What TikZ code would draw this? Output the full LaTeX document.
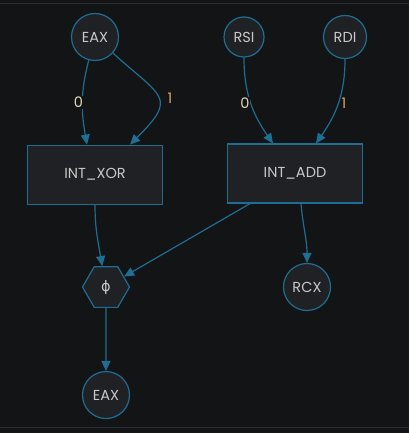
\documentclass[tikz,border=0pt]{standalone}
\usepackage{fontspec}
\setmainfont{Poppins}
\newfontfamily\symfont{DejaVu Sans}
\usetikzlibrary{arrows.meta,positioning,shapes.geometric}

\definecolor{bgdark}{HTML}{121416}
\definecolor{rule}{HTML}{2C2E31}
\definecolor{nodefill}{HTML}{202124}
\definecolor{wire}{HTML}{1E6E93}
\definecolor{nodetext}{HTML}{C8C8C8}
\definecolor{lblzero}{HTML}{E2D8B4}
\definecolor{lblone}{HTML}{E0A466}

\begin{document}
\begin{tikzpicture}[
    x=1pt, y=1pt,
    font=\fontsize{14.5}{16}\selectfont,
    base/.style={draw=wire, fill=nodefill, text=nodetext, line width=1.2pt, inner sep=0pt},
    reg/.style={base, circle, minimum size=47pt},
    op/.style={base, rectangle, minimum width=135pt, minimum height=59pt},
    phinode/.style={base, regular polygon, regular polygon sides=6, minimum size=47pt},
    lbl/.style={fill=bgdark, inner sep=1pt},
    dep/.style={wire, line width=1.2pt, -{Triangle[length=10pt,width=9pt]}}
  ]

  \useasboundingbox (0,0) rectangle (409,-433);
  \fill[bgdark] (0,0) rectangle (409,-433);
  \draw[rule, line width=1pt] (0,-3.5) -- (409,-3.5);
  \draw[rule, line width=1pt] (0,-427.5) -- (409,-427.5);

  \node (eaxin)  [reg]                      at (95,-37)      {EAX};
  \node (rsi)    [reg, minimum size=40pt]   at (244,-37)     {RSI};
  \node (rdi)    [reg, minimum size=43pt]   at (345,-37)     {RDI};

  \node (xor)    [op, below=83.5pt of eaxin]                 {INT\_XOR};
  \node (add)    [op]                       at (295,-173.5)  {INT\_ADD};

  \node (phi)    [phinode]                  at (106,-287)    {\symfont ϕ};
  \node (rcx)    [reg]                      at (307,-287)    {RCX};
  \node (eaxout) [reg, below=63pt of phi]                    {EAX};

  \draw[dep]  (eaxin) edge [out=-105,in=100]
                           node [lbl, text=lblzero, xshift=-4pt] {0}   ([xshift=-8pt]xor.north)
                      edge [out=-42,in=45,looseness=1.85]
                           node [lbl, text=lblone, xshift=12pt] {1}    ([xshift=35pt]xor.north);

  \draw[dep]  (rsi)   edge [out=-90,in=125]
                           node [lbl, text=lblzero, xshift=-6pt] {0}   ([xshift=-22pt]add.north);

  \draw[dep]  (rdi)   edge [out=-90,in=55]
                           node [lbl, text=lblone, xshift=6pt] {1}     ([xshift=21pt]add.north);

  \draw[dep]  (xor)   edge [out=-90,in=100]                            (phi);

  \draw[dep]  ([xshift=-45pt]add.south) --                             (phi);

  \draw[dep]  ([xshift=6pt]add.south)   to [out=-85,in=90]             (rcx);

  \draw[dep]  (phi)   edge                                             (eaxout);
\end{tikzpicture}
\end{document}
